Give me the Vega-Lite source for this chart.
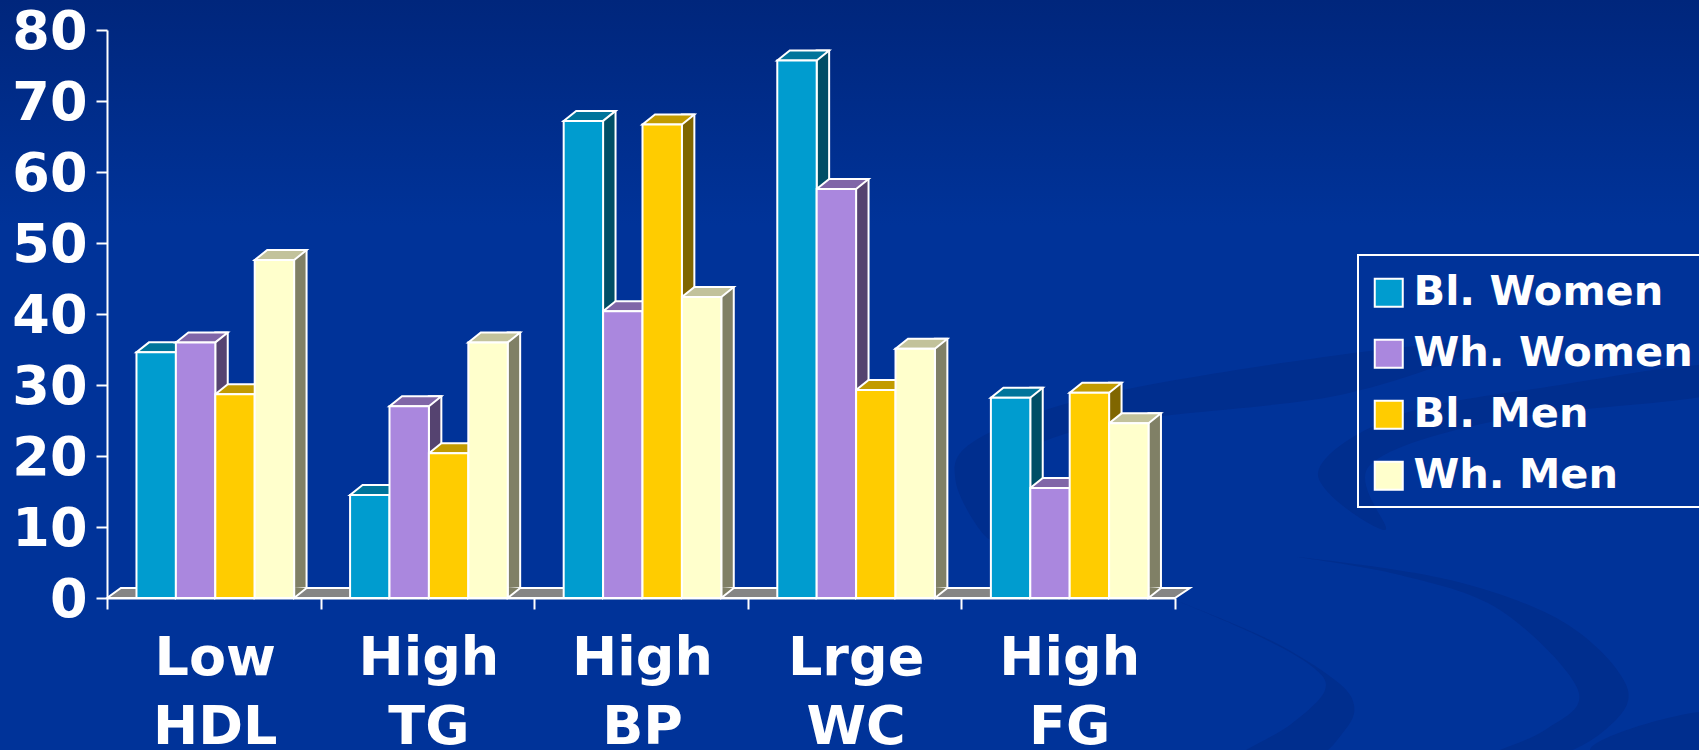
{
  "$schema": "https://vega.github.io/schema/vega-lite/v6.json",
  "width": 1699,
  "height": 750,
  "padding": 0,
  "autosize": "none",
  "config": {"legend": {"strokeWidth": 2}},
  "view": {
    "stroke": null,
    "fill": {
      "gradient": "linear", "x1": 0, "y1": 0, "x2": 0, "y2": 1,
      "stops": [
        {"offset": 0, "color": "#00267C"},
        {"offset": 0.3, "color": "#003399"},
        {"offset": 1, "color": "#003399"}
      ]
    }
  },
  "datasets": {
    "rates": [
      {"factor": "Low HDL", "group": "Bl. Women", "pct": 34.6},
      {"factor": "Low HDL", "group": "Wh. Women", "pct": 36},
      {"factor": "Low HDL", "group": "Bl. Men", "pct": 28.7},
      {"factor": "Low HDL", "group": "Wh. Men", "pct": 47.6},
      {"factor": "High TG", "group": "Bl. Women", "pct": 14.5},
      {"factor": "High TG", "group": "Wh. Women", "pct": 27},
      {"factor": "High TG", "group": "Bl. Men", "pct": 20.4},
      {"factor": "High TG", "group": "Wh. Men", "pct": 36},
      {"factor": "High BP", "group": "Bl. Women", "pct": 67.2},
      {"factor": "High BP", "group": "Wh. Women", "pct": 40.4},
      {"factor": "High BP", "group": "Bl. Men", "pct": 66.7},
      {"factor": "High BP", "group": "Wh. Men", "pct": 42.4},
      {"factor": "Lrge WC", "group": "Bl. Women", "pct": 75.7},
      {"factor": "Lrge WC", "group": "Wh. Women", "pct": 57.6},
      {"factor": "Lrge WC", "group": "Bl. Men", "pct": 29.3},
      {"factor": "Lrge WC", "group": "Wh. Men", "pct": 35.1},
      {"factor": "High FG", "group": "Bl. Women", "pct": 28.2},
      {"factor": "High FG", "group": "Wh. Women", "pct": 15.5},
      {"factor": "High FG", "group": "Bl. Men", "pct": 28.9},
      {"factor": "High FG", "group": "Wh. Men", "pct": 24.6}
    ],
    "swooshes": [
      {"s": "a", "i": 1, "u": 1175, "v": 600},
      {"s": "a", "i": 2, "u": 1270, "v": 640},
      {"s": "a", "i": 3, "u": 1335, "v": 680},
      {"s": "a", "i": 4, "u": 1354, "v": 705},
      {"s": "a", "i": 5, "u": 1345, "v": 730},
      {"s": "a", "i": 6, "u": 1310, "v": 760},
      {"s": "a", "i": 7, "u": 1235, "v": 760},
      {"s": "a", "i": 8, "u": 1290, "v": 725},
      {"s": "a", "i": 9, "u": 1325, "v": 690},
      {"s": "a", "i": 10, "u": 1310, "v": 665},
      {"s": "a", "i": 11, "u": 1250, "v": 632},
      {"s": "b", "i": 1, "u": 1298, "v": 557},
      {"s": "b", "i": 2, "u": 1450, "v": 580},
      {"s": "b", "i": 3, "u": 1565, "v": 623},
      {"s": "b", "i": 4, "u": 1627, "v": 687},
      {"s": "b", "i": 5, "u": 1605, "v": 730},
      {"s": "b", "i": 6, "u": 1545, "v": 760},
      {"s": "b", "i": 7, "u": 1480, "v": 760},
      {"s": "b", "i": 8, "u": 1545, "v": 730},
      {"s": "b", "i": 9, "u": 1578, "v": 690},
      {"s": "b", "i": 10, "u": 1500, "v": 610},
      {"s": "b", "i": 11, "u": 1400, "v": 575},
      {"s": "c", "i": 1, "u": 992, "v": 540},
      {"s": "c", "i": 2, "u": 956, "v": 483},
      {"s": "c", "i": 3, "u": 976, "v": 440},
      {"s": "c", "i": 4, "u": 1100, "v": 395},
      {"s": "c", "i": 5, "u": 1339, "v": 355},
      {"s": "c", "i": 6, "u": 1480, "v": 345},
      {"s": "c", "i": 7, "u": 1340, "v": 395},
      {"s": "c", "i": 8, "u": 1100, "v": 425},
      {"s": "c", "i": 9, "u": 1000, "v": 470},
      {"s": "d", "i": 1, "u": 1385, "v": 530},
      {"s": "d", "i": 2, "u": 1318, "v": 473},
      {"s": "d", "i": 3, "u": 1400, "v": 415},
      {"s": "d", "i": 4, "u": 1560, "v": 385},
      {"s": "d", "i": 5, "u": 1710, "v": 365},
      {"s": "d", "i": 6, "u": 1710, "v": 395},
      {"s": "d", "i": 7, "u": 1500, "v": 420},
      {"s": "d", "i": 8, "u": 1370, "v": 465},
      {"s": "e", "i": 1, "u": 1720, "v": 712},
      {"s": "e", "i": 2, "u": 1590, "v": 750},
      {"s": "e", "i": 3, "u": 1720, "v": 790}
    ]
  },
  "data": {"name": "rates"},
  "layer": [
    {
      "data": {"name": "swooshes"},
      "mark": {"type": "line", "fill": "#002E8E", "stroke": null, "strokeWidth": 0, "interpolate": "cardinal-closed", "clip": true},
      "encoding": {
        "x": {"field": "u", "type": "quantitative", "axis": null, "scale": {"domain": [0, 1699], "range": [0, 1699]}},
        "y": {"field": "v", "type": "quantitative", "axis": null, "scale": {"domain": [0, 750], "range": [0, 750]}},
        "detail": {"field": "s"},
        "order": {"field": "i"}
      }
    },
    {
      "data": {"values": [{"factor": "High BP", "pct": 0}]},
      "mark": {
        "type": "point", "filled": true, "opacity": 1, "size": 1140624,
        "shape": "M-1,0L-0.974,-0.0187L1.028,-0.0187L1,0Z",
        "fill": "#858585", "stroke": "white", "strokeWidth": 2
      },
      "encoding": {
        "x": {"field": "factor", "type": "nominal", "axis": null, "scale": {"type": "band", "domain": ["Low HDL", "High TG", "High BP", "Lrge WC", "High FG"], "range": [107, 1175], "paddingInner": 0, "paddingOuter": 0}},
        "y": {"field": "pct", "type": "quantitative", "axis": null, "scale": {"domain": [0, 80], "range": [598, 30]}}
      }
    },
    {
      "mark": {"type": "bar", "width": 12.5, "stroke": "white", "strokeWidth": 2},
      "encoding": {
        "x": {"field": "factor", "type": "nominal", "axis": null, "sort": null, "scale": {"type": "band", "domain": ["Low HDL", "High TG", "High BP", "Lrge WC", "High FG"], "range": [107, 1175], "paddingInner": 0, "paddingOuter": 0}},
        "xOffset": {"field": "group", "type": "nominal", "scale": {"type": "band", "domain": ["Bl. Women", "Wh. Women", "Bl. Men", "Wh. Men"], "paddingInner": 0, "paddingOuter": 0.71, "range": [27.4, 241]}},
        "y": {"field": "pct", "type": "quantitative", "axis": null, "scale": {"domain": [0, 80], "range": [588, 20]}},
        "y2": {"datum": 0},
        "color": {"field": "group", "type": "nominal", "legend": null, "scale": {"domain": ["Bl. Women", "Wh. Women", "Bl. Men", "Wh. Men"], "range": ["#004E66", "#554370", "#806600", "#808066"]}}
      }
    },
    {
      "mark": {
        "type": "point", "filled": true, "opacity": 1, "size": 2767,
        "shape": "M0.749,-0.418L0.749,0L1.224,-0.38",
        "stroke": "white", "strokeWidth": 2
      },
      "encoding": {
        "x": {"field": "factor", "type": "nominal", "axis": null, "sort": null, "scale": {"type": "band", "domain": ["Low HDL", "High TG", "High BP", "Lrge WC", "High FG"], "range": [107, 1175], "paddingInner": 0, "paddingOuter": 0}},
        "xOffset": {"field": "group", "type": "nominal", "scale": {"type": "band", "domain": ["Bl. Women", "Wh. Women", "Bl. Men", "Wh. Men"], "paddingInner": 0, "paddingOuter": 0.71, "range": [1.5, 215.1]}},
        "y": {"datum": 0, "type": "quantitative", "axis": null, "scale": {"domain": [0, 80], "range": [598, 30]}},
        "color": {"field": "group", "type": "nominal", "legend": null, "scale": {"domain": ["Bl. Women", "Wh. Women", "Bl. Men", "Wh. Men"], "range": ["#004E66", "#554370", "#806600", "#808066"]}}
      }
    },
    {
      "mark": {
        "type": "point", "filled": true, "opacity": 1, "size": 2767,
        "shape": "M-0.749,0L0.749,0L1.224,-0.38L-0.274,-0.38Z",
        "stroke": "white", "strokeWidth": 2
      },
      "encoding": {
        "x": {"field": "factor", "type": "nominal", "axis": null, "sort": null, "scale": {"type": "band", "domain": ["Low HDL", "High TG", "High BP", "Lrge WC", "High FG"], "range": [107, 1175], "paddingInner": 0, "paddingOuter": 0}},
        "xOffset": {"field": "group", "type": "nominal", "scale": {"type": "band", "domain": ["Bl. Women", "Wh. Women", "Bl. Men", "Wh. Men"], "paddingInner": 0, "paddingOuter": 0.71, "range": [1.5, 215.1]}},
        "y": {"field": "pct", "type": "quantitative", "axis": null, "scale": {"domain": [0, 80], "range": [598, 30]}},
        "color": {"field": "group", "type": "nominal", "legend": null, "scale": {"domain": ["Bl. Women", "Wh. Women", "Bl. Men", "Wh. Men"], "range": ["#00759B", "#8066A8", "#C29B00", "#C2C29B"]}}
      }
    },
    {
      "mark": {"type": "bar", "stroke": "white", "strokeWidth": 2},
      "encoding": {
        "x": {
          "field": "factor", "type": "nominal", "sort": null, "title": null,
          "scale": {"type": "band", "domain": ["Low HDL", "High TG", "High BP", "Lrge WC", "High FG"], "range": [107, 1175], "paddingInner": 0, "paddingOuter": 0},
          "axis": {
            "orient": "bottom", "offset": -152, "zindex": 1, "labelAngle": 0, "labelExpr": "split(datum.label, ' ')",
            "labelFont": "DejaVu Sans", "labelFontWeight": "bold", "labelFontSize": 54, "labelLineHeight": 69, "labelColor": "white",
            "labelPadding": 22, "labelOffset": 1, "labelLimit": 0, "labelOverlap": false,
            "domainColor": "white", "domainWidth": 2, "tickColor": "white", "tickWidth": 2, "tickSize": 11, "tickBand": "extent"
          }
        },
        "xOffset": {"field": "group", "type": "nominal", "scale": {"type": "band", "domain": ["Bl. Women", "Wh. Women", "Bl. Men", "Wh. Men"], "paddingInner": 0, "paddingOuter": 0.71, "range": [1.5, 215.1]}},
        "y": {
          "field": "pct", "type": "quantitative", "title": null,
          "scale": {"domain": [0, 80], "range": [598, 30]},
          "axis": {
            "orient": "left", "offset": -107, "zindex": 1, "values": [0, 10, 20, 30, 40, 50, 60, 70, 80], "grid": false,
            "labelFont": "DejaVu Sans", "labelFontWeight": "bold", "labelFontSize": 54, "labelColor": "white", "labelPadding": 9, "labelOffset": 2,
            "domainColor": "white", "domainWidth": 2, "tickColor": "white", "tickWidth": 2, "tickSize": 11
          }
        },
        "y2": {"datum": 0},
        "color": {
          "field": "group", "type": "nominal",
          "scale": {"domain": ["Bl. Women", "Wh. Women", "Bl. Men", "Wh. Men"], "range": ["#009CCF", "#AA87DE", "#FFCC00", "#FFFFCC"]},
          "legend": {
            "title": " ", "titleFontSize": 7, "titlePadding": 0,
            "orient": "none", "legendX": 1358, "legendY": 255, "padding": 10,
            "strokeColor": "white", "symbolType": "square", "symbolSize": 784,
            "symbolStrokeColor": "white", "symbolStrokeWidth": 2, "symbolOpacity": 1,
            "labelFont": "DejaVu Sans", "labelFontWeight": "bold", "labelFontSize": 41.5, "labelColor": "white",
            "labelOffset": 4, "labelLimit": 400, "rowPadding": 18
          }
        }
      }
    }
  ],
  "resolve": {
    "scale": {"x": "independent", "y": "independent", "color": "independent", "xOffset": "independent"},
    "axis": {"x": "independent", "y": "independent"},
    "legend": {"color": "independent"}
  }
}
